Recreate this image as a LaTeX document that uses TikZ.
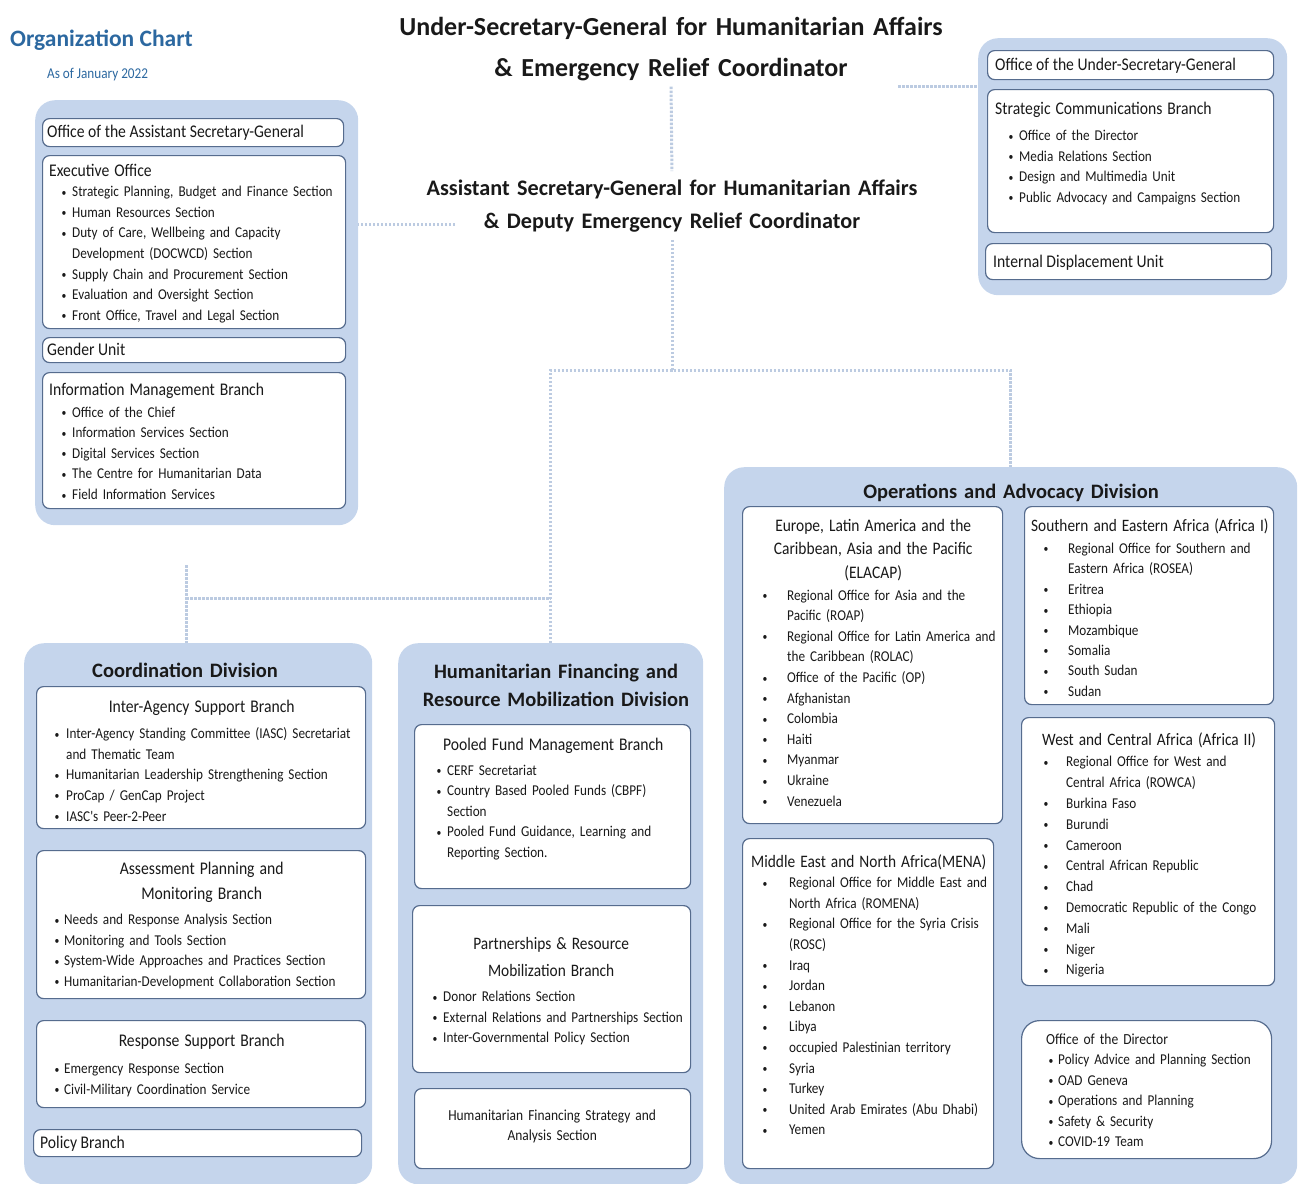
\documentclass[tikz,border=0pt]{standalone}
\usepackage{fontspec}
\setmainfont{Carlito}
\newfontfamily\cond{Carlito}[FakeStretch=0.88]
\usetikzlibrary{positioning}
\definecolor{grpblue}{RGB}{197,213,236}
\definecolor{boxline}{RGB}{86,108,142}
\definecolor{linkc}{RGB}{188,203,225}
\definecolor{titleblue}{RGB}{44,104,160}
\definecolor{ink}{RGB}{25,25,25}
\newlength\bpos \newlength\tpos
\newcommand\bset[2]{\setlength\bpos{#1pt}\setlength\tpos{#2pt}}
\newcommand\itm[1]{\par\noindent\hangindent=\tpos\hangafter=1\makebox[\tpos][l]{\hspace*{\bpos}\raisebox{0.5pt}{\fontsize{11}{11}\selectfont\textbullet}}#1\par}
\newcommand\fs[2]{\fontsize{#1}{#2}\selectfont}
\begin{document}
\begin{tikzpicture}[x=1pt, y=-1pt, every node/.style={text=ink},
  grp/.style={fill=grpblue, rounded corners=20pt, anchor=north west, inner sep=0pt},
  box/.style={draw=boxline, fill=white, line width=1.2pt, rounded corners=7pt, anchor=north west, inner sep=0pt},
  txt/.style={anchor=base west, inner sep=0pt, align=left, font=\cond\fs{15}{20.6}},
  hd/.style={anchor=base, inner sep=0pt, align=center, text width=340, font=\bfseries\fs{20.5}{28}},
  link/.style={draw=linkc, line width=3pt, dash pattern=on 2.5pt off 1.5pt}]
\useasboundingbox (0,0) rectangle (1302,1184);

% headings
\node[anchor=base west, inner sep=0pt, text=titleblue, font=\bfseries\fs{23.5}{26}] (orgt) at (10,46) {Organization Chart};
\node[anchor=base west, inner sep=0pt, text=titleblue, font=\cond\fs{15}{15}] (asof) at (47,78) {As of January 2022};
\node[hd, text width=700, font=\bfseries\fs{26}{41}] (usg) at (671,35) {Under-Secretary-General for Humanitarian Affairs\\ \& Emergency Relief Coordinator};
\node[hd, text width=600, font=\bfseries\fs{22.2}{33}] (asg) at (672,195) {Assistant Secretary-General for Humanitarian Affairs\\ \& Deputy Emergency Relief Coordinator};

% office of the ASG
\node[grp, minimum width=323, minimum height=425] (asgo) at (35,100) {};
\node[box, minimum width=301, minimum height=28] (oasg) at (42,118) {};
\node[txt, font=\cond\fs{17.8}{20}] (oasgt) at ([shift={(5,19)}]oasg.north west) {Office of the Assistant Secretary-General};
\node[box, minimum width=303, minimum height=173] (exo) at (42,155) {};
\node[txt, text width=305] (exot) at ([shift={(7,21)}]exo.north west) {\bset{12.5}{23}{\fs{17.8}{20}Executive Office\par}%
  \itm{Strategic Planning, Budget and Finance Section}
  \itm{Human Resources Section}
  \itm{Duty of Care, Wellbeing and Capacity\newline Development (DOCWCD) Section}
  \itm{Supply Chain and Procurement Section}
  \itm{Evaluation and Oversight Section}
  \itm{Front Office, Travel and Legal Section}};
\node[box, minimum width=303, minimum height=25] (gu) at (42,337) {};
\node[txt, font=\cond\fs{17.8}{20}] (gut) at ([shift={(5,18)}]gu.north west) {Gender Unit};
\node[box, minimum width=303, minimum height=136] (imb) at (42,372) {};
\node[txt, text width=305] (imbt) at ([shift={(7,23)}]imb.north west) {\bset{12.5}{23}{\fs{17.8}{20}Information Management Branch\par}\vspace{1.5pt}%
  \itm{Office of the Chief}
  \itm{Information Services Section}
  \itm{Digital Services Section}
  \itm{The Centre for Humanitarian Data}
  \itm{Field Information Services}};

% office of the USG
\node[grp, minimum width=309, minimum height=257] (usgo) at (978,38) {};
\node[box, minimum width=286, minimum height=29] (ousg) at (987,50) {};
\node[txt, font=\cond\fs{17.8}{20}] (ousgt) at ([shift={(8,20)}]ousg.north west) {Office of the Under-Secretary-General};
\node[box, minimum width=286, minimum height=143] (scb) at (987,89) {};
\node[txt, text width=290] (scbt) at ([shift={(8,25)}]scb.north west) {\bset{13.5}{24}{\fs{17.8}{20}Strategic Communications Branch\par}\vspace{6pt}%
  \itm{Office of the Director}
  \itm{Media Relations Section}
  \itm{Design and Multimedia Unit}
  \itm{Public Advocacy and Campaigns Section}};
\node[box, minimum width=286, minimum height=36] (idu) at (985,243) {};
\node[txt, font=\cond\fs{17.8}{20}] (idut) at ([shift={(8,24)}]idu.north west) {Internal Displacement Unit};

% coordination division
\node[grp, minimum width=348, minimum height=541] (cdiv) at (24,643) {};
\node[hd] (cdivt) at (185,677) {Coordination Division};
\node[box, minimum width=329, minimum height=142] (iasb) at (36,686) {};
\node[txt, text width=315] (iasbt) at ([shift={(8,26)}]iasb.north west) {\bset{10.5}{22}{\centering\fs{17.8}{20}Inter-Agency Support Branch\par}\vspace{6pt}%
  \itm{Inter-Agency Standing Committee (IASC) Secretariat\newline and Thematic Team}
  \itm{Humanitarian Leadership Strengthening Section}
  \itm{ProCap / GenCap Project}
  \itm{IASC's Peer-2-Peer}};
\node[box, minimum width=329, minimum height=148] (apmb) at (36,850) {};
\node[txt, text width=315] (apmbt) at ([shift={(8,24)}]apmb.north west) {\bset{10.5}{20}{\centering\fs{17.8}{25}Assessment Planning and\\Monitoring Branch\par}\vspace{5pt}%
  \itm{Needs and Response Analysis Section}
  \itm{Monitoring and Tools Section}
  \itm{System-Wide Approaches and Practices Section}
  \itm{Humanitarian-Development Collaboration Section}};
\node[box, minimum width=329, minimum height=87] (rsb) at (36,1020) {};
\node[txt, text width=315] (rsbt) at ([shift={(8,26)}]rsb.north west) {\bset{10.5}{20}{\centering\fs{17.8}{20}Response Support Branch\par}\vspace{7pt}%
  \itm{Emergency Response Section}
  \itm{Civil-Military Coordination Service}};
\node[box, minimum width=328, minimum height=27] (pb) at (33,1129) {};
\node[txt, font=\cond\fs{17.8}{20}] (pbt) at ([shift={(7,19)}]pb.north west) {Policy Branch};

% humanitarian financing division
\node[grp, minimum width=305, minimum height=541] (hfd) at (398,643) {};
\node[hd] (hfdt) at (556,678) {Humanitarian Financing and\\Resource Mobilization Division};
\node[box, minimum width=276, minimum height=164] (pfmb) at (414,724) {};
\node[txt, text width=262] (pfmbt) at ([shift={(8,26)}]pfmb.north west) {\bset{14.5}{25}{\centering\fs{17.8}{20}Pooled Fund Management Branch\par}\vspace{4.5pt}%
  \itm{CERF Secretariat}
  \itm{Country Based Pooled Funds (CBPF)\newline Section}
  \itm{Pooled Fund Guidance, Learning and\newline Reporting Section.}};
\node[box, minimum width=278, minimum height=167] (prmb) at (412,905) {};
\node[txt, text width=262] (prmbt) at ([shift={(8,44)}]prmb.north west) {\bset{12.5}{23}{\centering\fs{17.5}{27}Partnerships \& Resource\\Mobilization Branch\par}\vspace{5pt}%
  \itm{Donor Relations Section}
  \itm{\mbox{External Relations and Partnerships Section}}
  \itm{Inter-Governmental Policy Section}};
\node[box, minimum width=276, minimum height=80] (hfsa) at (414,1088) {};
\node[txt, text width=276, align=center, font=\cond\fs{15.3}{20}] (hfsat) at ([shift={(0,32)}]hfsa.north west) {Humanitarian Financing Strategy and\\Analysis Section};

% operations and advocacy division
\node[grp, minimum width=573, minimum height=717] (opd) at (724,467) {};
\node[hd] (opdt) at (1011,498) {Operations and Advocacy Division};
\node[box, minimum width=260, minimum height=317] (ela) at (742,506) {};
\node[txt, text width=248] (elat) at ([shift={(7,25)}]ela.north west) {\bset{13.5}{38}{\centering\fs{17.6}{23.5}Europe, Latin America and the\\Caribbean, Asia and the Pacific\\(ELACAP)\par}\vspace{1.5pt}%
  \itm{Regional Office for Asia and the\newline Pacific (ROAP)}
  \itm{Regional Office for Latin America and\newline the Caribbean (ROLAC)}
  \itm{Office of the Pacific (OP)}
  \itm{Afghanistan}
  \itm{Colombia}
  \itm{Haiti}
  \itm{Myanmar}
  \itm{Ukraine}
  \itm{Venezuela}};
\node[box, minimum width=249, minimum height=198] (afa) at (1024,506) {};
\node[txt, text width=255, font=\cond\fs{15}{20.4}] (afat) at ([shift={(7,25)}]afa.north west) {\bset{12.5}{37}{\fs{17.4}{20}Southern and Eastern Africa (Africa I)\par}\vspace{2pt}%
  \itm{Regional Office for Southern and\newline Eastern Africa (ROSEA)}
  \itm{Eritrea}
  \itm{Ethiopia}
  \itm{Mozambique}
  \itm{Somalia}
  \itm{South Sudan}
  \itm{Sudan}};
\node[box, minimum width=253, minimum height=268] (afb) at (1021,717) {};
\node[txt, text width=255, font=\cond\fs{15}{20.8}] (afbt) at ([shift={(8,28)}]afb.north west) {\bset{14.5}{37}{\fs{17.4}{20}\hspace*{13pt}West and Central Africa (Africa II)\par}\vspace{1pt}%
  \itm{Regional Office for West and\newline Central Africa (ROWCA)}
  \itm{Burkina Faso}
  \itm{Burundi}
  \itm{Cameroon}
  \itm{Central African Republic}
  \itm{Chad}
  \itm{Democratic Republic of the Congo}
  \itm{Mali}
  \itm{Niger}
  \itm{Nigeria}};
\node[box, minimum width=251, minimum height=330] (mena) at (742,838) {};
\node[txt, text width=250] (menat) at ([shift={(9,29)}]mena.north west) {\bset{11.5}{38}{\fs{17.5}{20}Middle East and North Africa(MENA)\par}%
  \itm{Regional Office for Middle East and\newline North Africa (ROMENA)}
  \itm{Regional Office for the Syria Crisis\newline (ROSC)}
  \itm{Iraq}
  \itm{Jordan}
  \itm{Lebanon}
  \itm{Libya}
  \itm{occupied Palestinian territory}
  \itm{Syria}
  \itm{Turkey}
  \itm{United Arab Emirates (Abu Dhabi)}
  \itm{Yemen}};
\node[box, minimum width=250, minimum height=138, rounded corners=18pt] (oad) at (1021,1020) {};
\node[txt, text width=230, font=\cond\fs{15}{20.5}] (oadt) at ([shift={(25,24)}]oad.north west) {\bset{2.5}{12}{\fs{15.4}{18}Office of the Director\par}%
  \itm{Policy Advice and Planning Section}
  \itm{OAD Geneva}
  \itm{Operations and Planning}
  \itm{Safety \& Security}
  \itm{COVID-19 Team}};

% connectors
\coordinate (usgr) at (898,86);
\coordinate (asgl) at (455,224);
\coordinate (jmid) at (672,370);
\coordinate (ctop) at (186,565);
\coordinate (cjn) at (186,598);
\draw[link] (usgr) -- (usgr -| usgo.west);
\draw[link, shorten <=6pt, shorten >=8pt] (usg.south) -- (asg.north);
\draw[link] (asgl) -- (asgl -| asgo.east);
\draw[link, shorten <=8pt] (asg.south) -- (jmid);
\draw[link] (hfd.north) |- (jmid) -| (opd.north);
\draw[link] (ctop) -- (ctop |- cdiv.north);
\draw[link] (cjn) -- (cjn -| hfd.north);
\end{tikzpicture}
\end{document}
